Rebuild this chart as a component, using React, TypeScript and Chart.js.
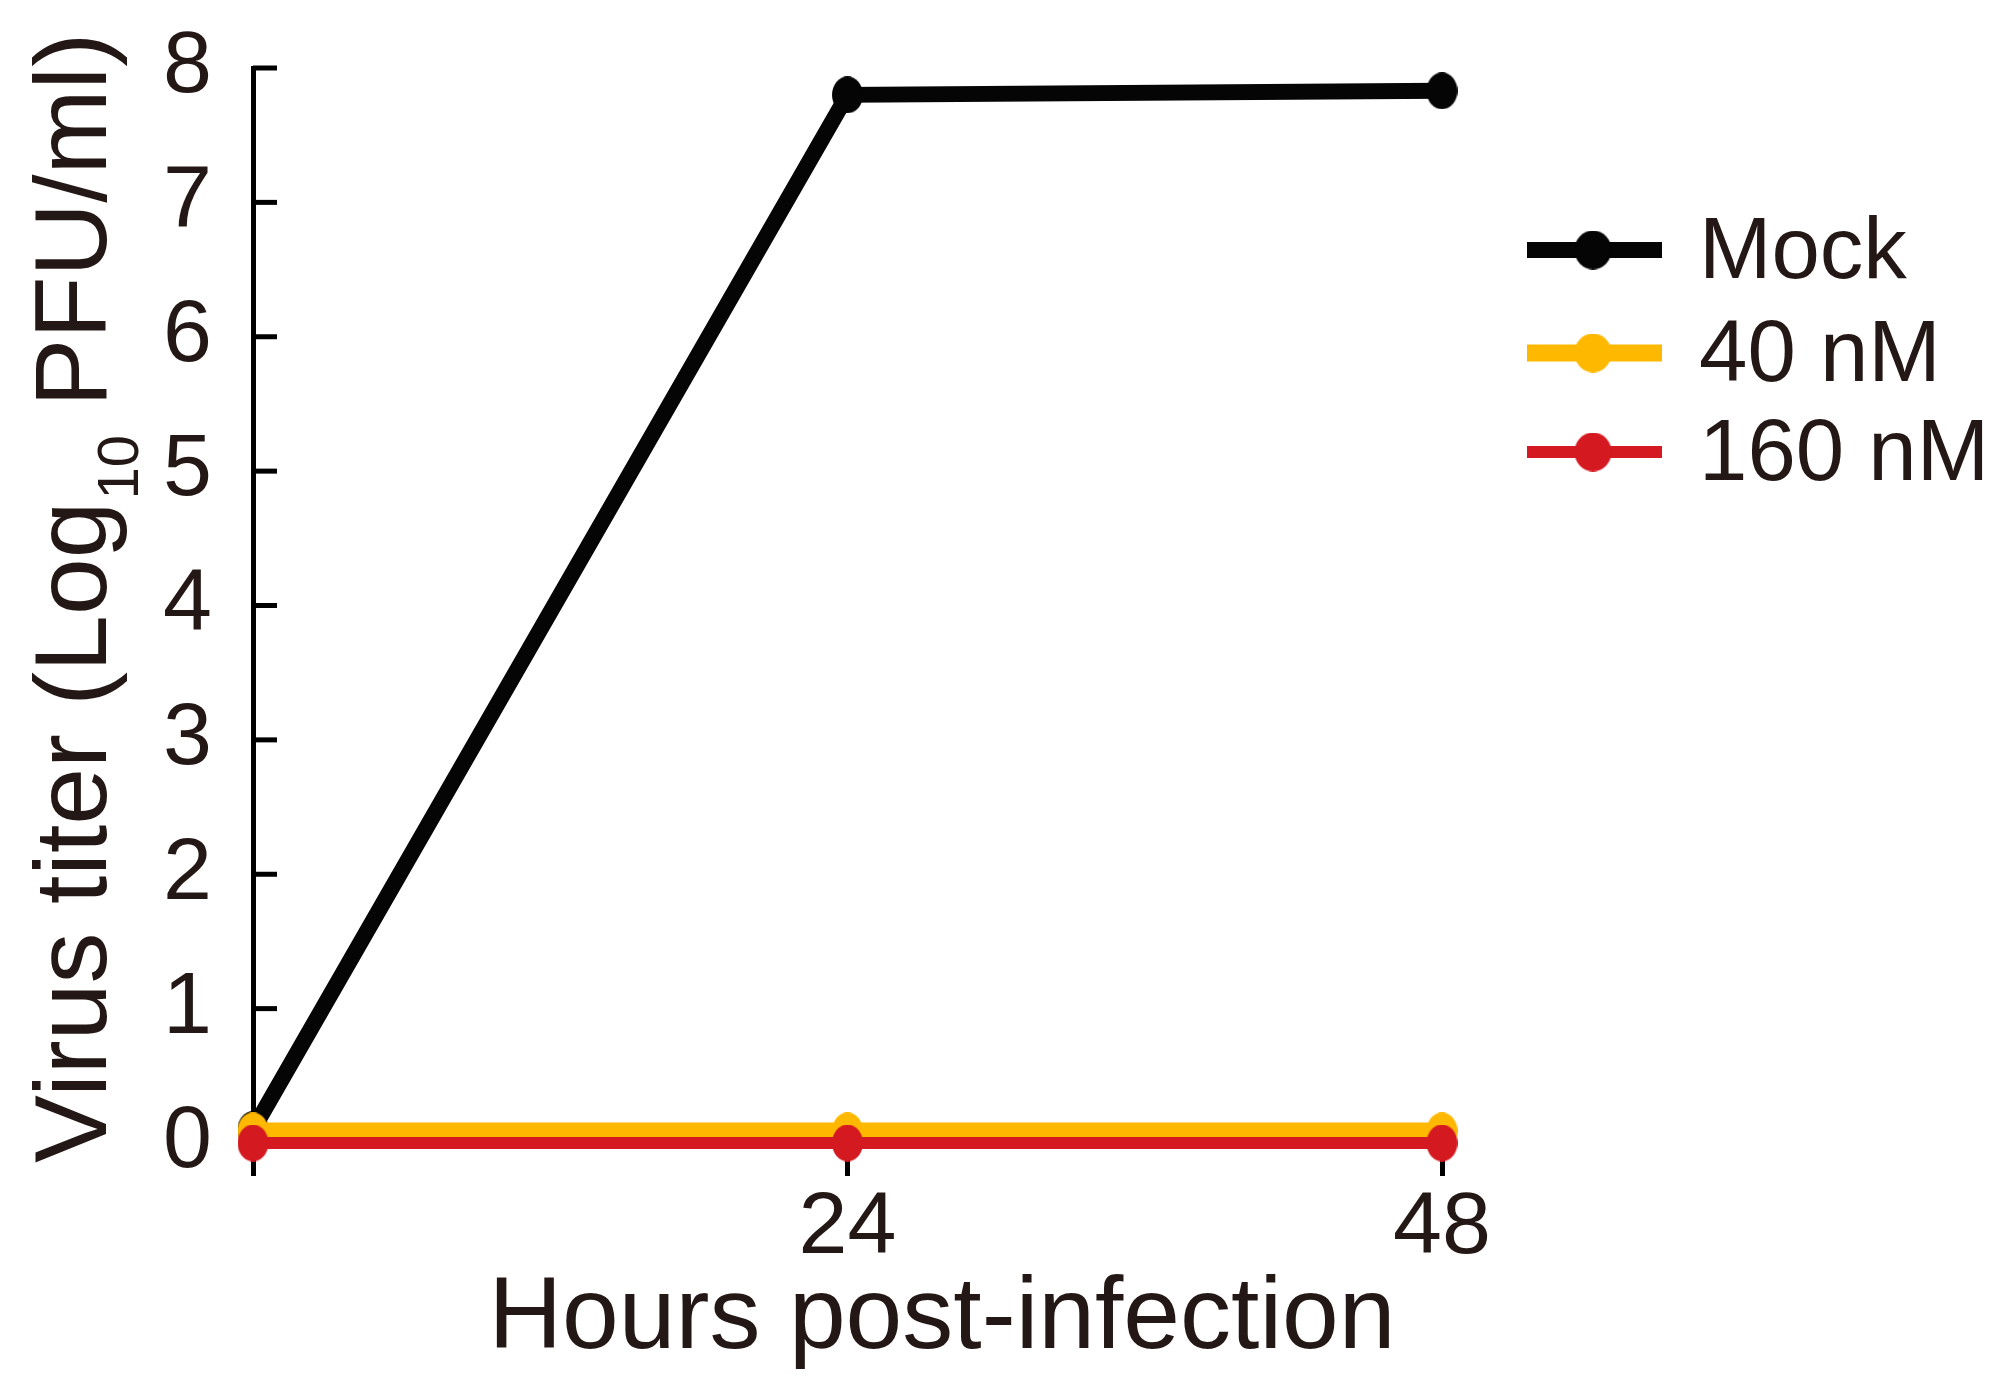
import React, { useEffect, useRef } from 'react';
import { Chart, registerables } from 'chart.js';

Chart.register(...registerables);

// ---- data ----
const hours = [0, 24, 48];
const xTickValues = [0, 24, 48];
const xTickLabels = ['', '24', '48'];
const yTickValues = [0, 1, 2, 3, 4, 5, 6, 7, 8];
const seriesLabels = ['Mock', '40 nM', '160 nM'];
const mockTiter = [0.1, 7.8, 7.83];
const nm40Titer = [0.09, 0.09, 0.09];
const nm160Titer = [0, 0, 0];
const xTitle = 'Hours post-infection';
const yTitleParts = ['Virus titer (Log', '10', ' PFU/ml)'];

// ---- style ----
const TEXT = '#231815';
const FONT = '"Liberation Sans", Arial, sans-serif';
const colors = ['#050505', '#FFB800', '#D51920'];
const widths = [16, 17, 12];

function makeDot(color: string, w: number, h: number) {
  const c = document.createElement('canvas');
  c.width = w;
  c.height = h;
  const g = c.getContext('2d')!;
  g.fillStyle = color;
  g.beginPath();
  g.ellipse(w / 2, h / 2, w / 2, h / 2, 0, 0, Math.PI * 2);
  g.fill();
  return c;
}

export default function App() {
  const ref = useRef<HTMLCanvasElement | null>(null);

  useEffect(() => {
    if (!ref.current) return;
    const dots = colors.map((c) => makeDot(c, 31, 37));
    const legendDots = colors.map((c) => makeDot(c, 37, 39));
    const values = [mockTiter, nm40Titer, nm160Titer];

    const datasets = seriesLabels.map((label, i) => ({
      label,
      data: hours.map((h, j) => ({ x: h, y: values[i][j] })),
      borderColor: colors[i],
      backgroundColor: colors[i],
      borderWidth: widths[i],
      pointStyle: dots[i] as any,
      pointRadius: 16,
      pointHoverRadius: 16,
      clip: false as any,
      order: 2 - i,
      tension: 0,
    }));

    const decor = {
      id: 'decor',
      beforeDatasetsDraw(chart: any) {
        const ctx = chart.ctx;
        const y = chart.scales.y;
        ctx.save();
        ctx.strokeStyle = '#000';
        ctx.lineWidth = 5;
        for (const v of yTickValues) {
          const py = y.getPixelForValue(v);
          ctx.beginPath();
          ctx.moveTo(y.right, py);
          ctx.lineTo(y.right + 24, py);
          ctx.stroke();
        }
        ctx.restore();
      },
      afterDraw(chart: any) {
        const ctx = chart.ctx;
        ctx.save();
        ctx.fillStyle = TEXT;
        // x title
        ctx.font = `102px ${FONT}`;
        ctx.textAlign = 'center';
        ctx.textBaseline = 'alphabetic';
        ctx.fillText(xTitle, 942, 1348);
        // y title with subscript
        ctx.translate(106, 1163);
        ctx.rotate(-Math.PI / 2);
        ctx.textAlign = 'left';
        let xx = 0;
        ctx.font = `102px ${FONT}`;
        ctx.fillText(yTitleParts[0], xx, 0);
        xx += ctx.measureText(yTitleParts[0]).width;
        ctx.font = `58px ${FONT}`;
        ctx.fillText(yTitleParts[1], xx + 2, 32);
        xx += ctx.measureText(yTitleParts[1]).width + 2;
        ctx.font = `102px ${FONT}`;
        ctx.fillText(yTitleParts[2], xx, 0);
        ctx.restore();

        // legend
        const rows = [250, 353, 452];
        ctx.save();
        chart.data.datasets.forEach((ds: any, i: number) => {
          const ry = rows[i];
          ctx.strokeStyle = ds.borderColor;
          ctx.lineWidth = ds.borderWidth;
          ctx.lineCap = 'butt';
          ctx.beginPath();
          ctx.moveTo(1527, ry);
          ctx.lineTo(1662, ry);
          ctx.stroke();
          const d = legendDots[i];
          ctx.drawImage(d, 1593 - d.width / 2, ry - d.height / 2);
          ctx.fillStyle = TEXT;
          ctx.font = `87px ${FONT}`;
          ctx.textAlign = 'left';
          ctx.textBaseline = 'alphabetic';
          ctx.fillText(ds.label, 1699, ry + 28);
        });
        ctx.restore();
      },
    };

    const chart = new Chart(ref.current, {
      type: 'line',
      data: { datasets: datasets as any },
      options: {
        animation: false,
        responsive: false,
        maintainAspectRatio: false,
        layout: { padding: { left: 0, top: 68, right: 2006 - 1442, bottom: 0 } },
        plugins: {
          legend: { display: false },
          tooltip: { enabled: false },
          title: { display: false },
        },
        scales: {
          x: {
            type: 'linear',
            position: 'bottom',
            min: 0,
            max: 48,
            afterFit(scale: any) {
              scale.height = 1390 - 1143;
              scale.paddingLeft = 0;
              scale.paddingRight = 0;
            },
            afterBuildTicks(scale: any) {
              scale.ticks = xTickValues.map((v) => ({ value: v }));
            },
            ticks: {
              color: TEXT,
              font: { size: 88, family: FONT },
              padding: 0,
              maxRotation: 0,
              autoSkip: false,
              callback: (v: any) => {
                const i = xTickValues.indexOf(Number(v));
                return i >= 0 ? xTickLabels[i] : '';
              },
            },
            grid: {
              display: true,
              drawOnChartArea: false,
              drawTicks: true,
              tickLength: 33,
              color: '#000',
              lineWidth: 5,
            },
            border: { display: false },
          },
          y: {
            type: 'linear',
            position: 'left',
            min: 0,
            max: 8,
            afterFit(scale: any) {
              scale.width = 253;
              scale.paddingTop = 0;
              scale.paddingBottom = 0;
            },
            afterBuildTicks(scale: any) {
              scale.ticks = yTickValues.map((v) => ({ value: v }));
            },
            ticks: {
              color: TEXT,
              font: { size: 88, family: FONT },
              padding: 41,
              autoSkip: false,
            },
            grid: {
              display: false,
              drawOnChartArea: false,
              drawTicks: false,
            },
            border: { display: true, color: '#000', width: 5 },
          },
        },
      },
      plugins: [decor],
    });
    return () => chart.destroy();
  }, []);

  return (
    <div style={{ position: 'fixed', left: 0, top: 0, width: 2006, height: 1390, background: '#fff' }}>
      <canvas ref={ref} width={2006} height={1390} style={{ width: 2006, height: 1390, display: 'block' }} />
    </div>
  );
}
